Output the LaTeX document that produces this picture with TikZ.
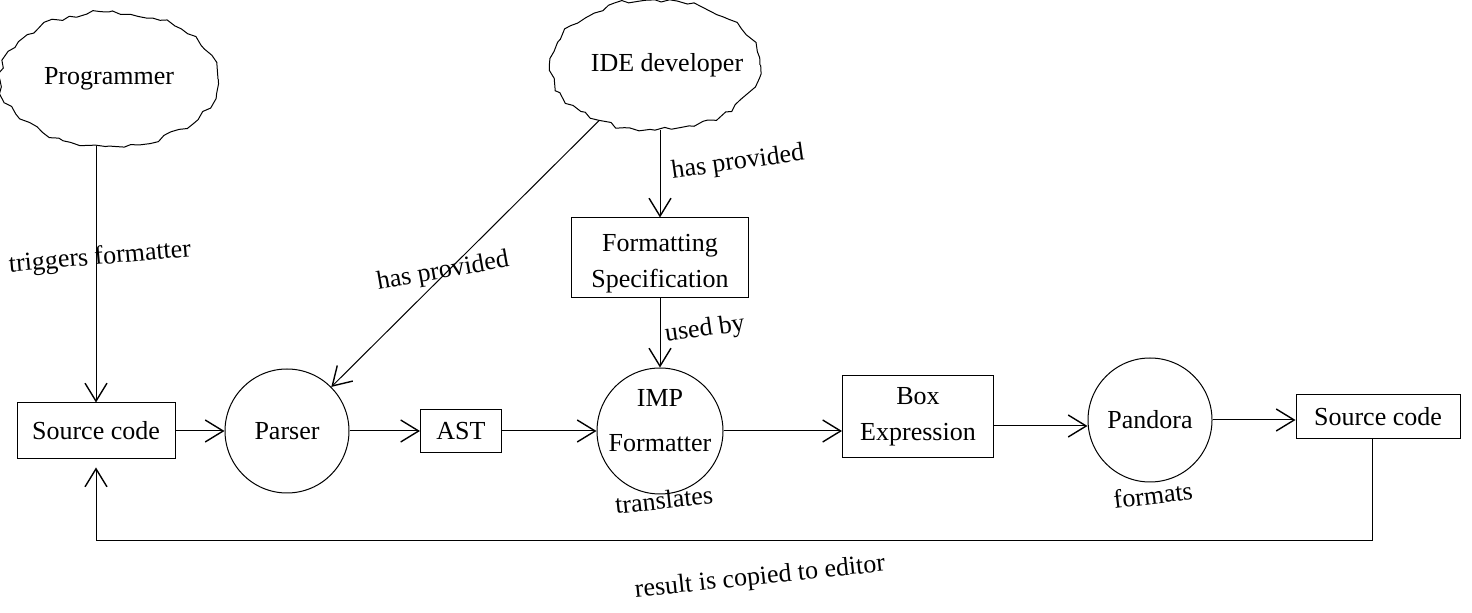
\documentclass[tikz,border=0pt]{standalone}
\usepackage{fontspec}
\setmainfont{Liberation Serif}
\usetikzlibrary{arrows.meta,shapes.geometric,decorations.pathmorphing}

\begin{document}
\pgfmathsetseed{7}
\begin{tikzpicture}[x=0.5pt, y=-0.5pt, line width=0.5pt,
		font=\fontsize{13}{16}\selectfont,
		actor/.style={draw, ellipse, inner xsep=-10pt, inner ysep=0pt, decorate, decoration={random steps, segment length=4pt, amplitude=1.3pt}},
		tool/.style={draw, circle, inner sep=-4pt, minimum size=62pt, align=center},
		artefact/.style={draw, rectangle, inner sep=2pt, align=center},
		flow/.style={-{Straight Barb[length=9pt, width=11pt, line width=0.7pt]}},
		tag/.style={inner sep=0pt}]
				\useasboundingbox (0, 0) rectangle (1472, 613);
				\node[actor, minimum width=109pt, minimum height=67pt] (prog)at(109, 79) {Programmer};
				\node[actor, minimum width=105pt, minimum height=65pt] (ide)at(655, 65) {\hspace*{12pt}IDE developer};
				\node[artefact, minimum width=79pt, minimum height=28pt] (src)at(96, 431) {Source code};
				\node[tool] (parser)at(287, 431) {Parser};
				\node[artefact, minimum width=40.5pt, minimum height=21.5pt] (ast)at(461, 431) {AST};
				\node[tool, minimum size=63pt] (imp)at(660, 431) {IMP\\[6.5pt]Formatter\\[-5pt]};
				\node[artefact, minimum width=75.5pt, minimum height=41pt] (boxexpr)at(918, 417) {Box\\[2pt]Expression};
				\node[tool] (pandora)at(1150, 420) {Pandora};
				\node[artefact, minimum width=82pt, minimum height=22pt] (srcout)at(1378, 417) {Source code};
				\node[artefact, minimum width=88.5pt, minimum height=40pt] (spec)at(660, 258) {\rule{0pt}{14pt}Formatting\\[2pt]Specification};
				\draw[flow] (prog.south -| src.north) -- (src.north);
				\draw[flow] (ide) -- (parser);
				\draw[flow] (ide.south -| spec.north) -- (spec.north);
				\draw[flow] (spec) -- (imp);
				\draw[flow] (src) -- (parser);
				\draw[flow] (parser) -- (ast);
				\draw[flow] (ast) -- (imp);
				\draw[flow] (imp) -- (imp -| boxexpr.west);
				\draw[flow] (boxexpr.east) ++(0, 9) coordinate (bx) -- (bx -| pandora.west);
				\draw[flow] (pandora) -- (pandora -| srcout.west);
				\draw[flow] ([xshift=-3pt]srcout.south) -- ++(0, 101) -| ([yshift=-4pt]src.south);
				\node[tag, rotate=5] (ltrig)at(100, 258) {triggers formatter};
				\node[tag, rotate=10] (lprov1)at(443, 272) {has provided};
				\node[tag, rotate=8] (lprov2)at(738, 163) {has provided};
				\node[tag, rotate=8] (lused)at(705, 330) {used by};
				\node[tag, rotate=6] (ltrans)at(664, 500) {translates};
				\node[tag, rotate=7] (lform)at(1153, 495) {formats};
				\node[tag, rotate=6] (lcopy)at(760, 578) {result is copied to editor};
			\end{tikzpicture}
\end{document}
